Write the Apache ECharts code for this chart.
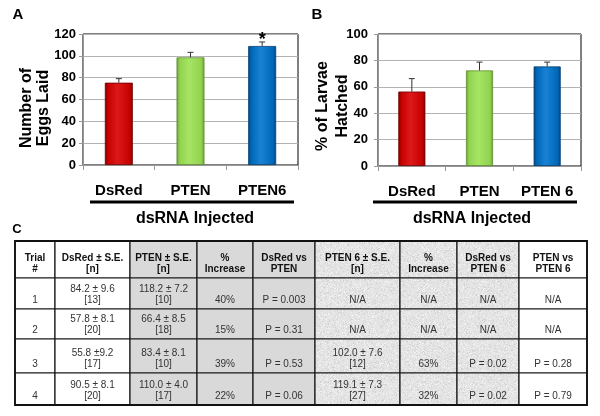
<!DOCTYPE html>
<html>
<head>
<meta charset="utf-8">
<title>dsRNA injection</title>
<script src="https://cdn.jsdelivr.net/npm/echarts@6/dist/echarts.min.js"></script>
<style>
html, body { margin: 0; padding: 0; background: #fff; }
#main { width: 600px; height: 416px; }
</style>
</head>
<body>
<div id="main"></div>
<script>
// ---- data ----
var categoriesA = ['DsRed', 'PTEN', 'PTEN6'];
var eggsMean = [75.4, 98.6, 109.0];
var eggsErr = [3.7, 4.6, 3.7];
var eggsSig = ['', '', '*'];
var yTicksA = [0, 20, 40, 60, 80, 100, 120];

var categoriesB = ['DsRed', 'PTEN', 'PTEN 6'];
var hatchMean = [56.4, 72.4, 75.4];
var hatchErr = [9.8, 6.3, 3.3];
var yTicksB = [0, 20, 40, 60, 80, 100];

var tableHeader = [['Trial', '#'], ['DsRed \u00b1 S.E.', '[n]'], ['PTEN \u00b1 S.E.', '[n]'],
  ['%', 'Increase'], ['DsRed vs', 'PTEN'], ['PTEN 6 \u00b1 S.E.', '[n]'], ['%', 'Increase'],
  ['DsRed vs', 'PTEN 6'], ['PTEN vs', 'PTEN 6']];
var trialNo = ['1', '2', '3', '4'];
var dsRedSE = ['84.2 \u00b1 9.6', '57.8 \u00b1 8.1', '55.8 \u00b19.2', '90.5 \u00b1 8.1'];
var dsRedN = ['[13]', '[20]', '[17]', '[20]'];
var ptenSE = ['118.2 \u00b1 7.2', '66.4 \u00b1 8.5', '83.4 \u00b1 8.1', '110.0 \u00b1 4.0'];
var ptenN = ['[10]', '[18]', '[10]', '[17]'];
var ptenInc = ['40%', '15%', '39%', '22%'];
var pDsRedPten = ['P = 0.003', 'P = 0.31', 'P = 0.53', 'P = 0.06'];
var pten6SE = ['N/A', 'N/A', '102.0 \u00b1 7.6', '119.1 \u00b1 7.3'];
var pten6N = ['', '', '[12]', '[27]'];
var pten6Inc = ['N/A', 'N/A', '63%', '32%'];
var pDsRedPten6 = ['N/A', 'N/A', 'P = 0.02', 'P = 0.02'];
var pPtenPten6 = ['N/A', 'N/A', 'P = 0.28', 'P = 0.79'];

// ---- layout ----
var FONT = '"Liberation Sans", Arial, sans-serif';
var colX = [15, 55, 130, 197, 253, 315, 400, 457, 519, 587];
var rowY = [241, 278, 309, 339, 373, 405];
var colFill = ['#fff', '#fff', '#d9d9d9', '#d9d9d9', '#d9d9d9', 'tex', 'tex', 'tex', '#fff'];

function barGrad(edge, mid, light) {
  return {
    type: 'linear', x: 0, y: 0, x2: 1, y2: 0,
    colorStops: [
      { offset: 0, color: edge }, { offset: 0.12, color: mid },
      { offset: 0.45, color: light }, { offset: 0.88, color: mid },
      { offset: 1, color: edge }
    ]
  };
}
var barColors = [
  barGrad('#7a0000', '#c80000', '#dc1a1a'),
  barGrad('#6a9c3c', '#93d34f', '#a6e464'),
  barGrad('#00467f', '#0068b8', '#1a82d4')
];

// light speckled texture for the PTEN 6 columns
function makeTexture() {
  var c = document.createElement('canvas');
  c.width = 97; c.height = 89;
  var ctx = c.getContext('2d');
  ctx.fillStyle = '#e4e4e4';
  ctx.fillRect(0, 0, c.width, c.height);
  for (var i = 0; i < c.width; i++) {
    for (var j = 0; j < c.height; j++) {
      var h = Math.abs(Math.sin(i * 12.9898 + j * 78.233) * 43758.5453) % 1;
      if (h < 0.12) { ctx.fillStyle = '#d4d4d4'; ctx.fillRect(i, j, 1, 1); }
      else if (h > 0.86) { ctx.fillStyle = '#f2f2f2'; ctx.fillRect(i, j, 1, 1); }
    }
  }
  return c;
}
var texture = makeTexture();

var chart = echarts.init(document.getElementById('main'), null, { renderer: 'canvas' });

function errorSeries(xi, yi, means, errs, sig) {
  var data = means.map(function (m, i) { return [i, m, errs[i], sig ? sig[i] : '']; });
  return {
    type: 'custom', xAxisIndex: xi, yAxisIndex: yi, z: 5,
    data: data,
    renderItem: function (params, api) {
      var base = api.coord([api.value(0), api.value(1)]);
      var top = api.coord([api.value(0), api.value(1) + api.value(2)]);
      var mark = data[params.dataIndex][3];
      var ch = [
        { type: 'line', shape: { x1: base[0], y1: base[1], x2: top[0], y2: top[1] }, style: { stroke: '#333', lineWidth: 1 } },
        { type: 'line', shape: { x1: top[0] - 3, y1: top[1], x2: top[0] + 3, y2: top[1] }, style: { stroke: '#333', lineWidth: 1 } }
      ];
      if (mark) {
        ch.push({ type: 'text', style: { text: mark, x: top[0], y: top[1] - 2, align: 'center', verticalAlign: 'middle',
          font: 'bold 18px ' + FONT, fill: '#000' } });
      }
      return { type: 'group', children: ch };
    }
  };
}

function barData(vals) {
  return vals.map(function (v, i) {
    return { value: v, itemStyle: { color: barColors[i], borderColor: ['#700000', '#5f8f33', '#003f73'][i], borderWidth: 0.8 } };
  });
}

var axisLabelStyle = { fontFamily: FONT, fontWeight: 'bold', color: '#000' };

// ---- graphic: panel letters, titles, table ----
var g = [];
function txt(s, x, y, font, opt) {
  opt = opt || {};
  g.push({ type: 'text', x: x, y: y, rotation: opt.rot || 0, z: 10,
    style: { text: s, x: 0, y: 0, align: opt.align || 'center', verticalAlign: 'middle',
      font: font, fill: opt.fill || '#000', lineHeight: opt.lh || 14 } });
}
txt('A', 18, 15, 'bold 15px ' + FONT);
txt('B', 317, 15, 'bold 15px ' + FONT);
txt('C', 17, 229, 'bold 13px ' + FONT);
txt('Number of\nEggs Laid', 35, 108, 'bold 16px ' + FONT, { rot: Math.PI / 2, lh: 17 });
txt('% of Larvae\nHatched', 333, 106, 'bold 16px ' + FONT, { rot: Math.PI / 2, lh: 20 });
g.push({ type: 'line', z: 10, shape: { x1: 90, y1: 202, x2: 294, y2: 202 }, style: { stroke: '#000', lineWidth: 3 } });
g.push({ type: 'line', z: 10, shape: { x1: 373, y1: 202, x2: 577, y2: 202 }, style: { stroke: '#000', lineWidth: 3 } });
txt('dsRNA Injected', 195, 219, 'bold 16px ' + FONT);
txt('dsRNA Injected', 472, 219, 'bold 16px ' + FONT);

var body = [
  trialNo.map(function (t) { return [t]; }),
  dsRedSE.map(function (s, i) { return [s, dsRedN[i]]; }),
  ptenSE.map(function (s, i) { return [s, ptenN[i]]; }),
  ptenInc.map(function (s) { return [s]; }),
  pDsRedPten.map(function (s) { return [s]; }),
  pten6SE.map(function (s, i) { return pten6N[i] ? [s, pten6N[i]] : [s]; }),
  pten6Inc.map(function (s) { return [s]; }),
  pDsRedPten6.map(function (s) { return [s]; }),
  pPtenPten6.map(function (s) { return [s]; })
];

for (var c = 0; c < 9; c++) {
  var x0 = colX[c], x1 = colX[c + 1], cx = (x0 + x1) / 2;
  var fill = colFill[c] === 'tex' ? { image: texture, repeat: 'repeat' } : colFill[c];
  for (var r = 0; r < 5; r++) {
    var y0 = rowY[r], y1 = rowY[r + 1];
    g.push({ type: 'rect', z: 1, shape: { x: x0, y: y0, width: x1 - x0, height: y1 - y0 },
      style: { fill: fill, stroke: '#1a1a1a', lineWidth: 1.2 } });
    var lines = r === 0 ? tableHeader[c] : body[c][r - 1];
    var font = (r === 0 ? 'bold ' : '') + '10px ' + FONT;
    var col = r === 0 ? '#111' : '#333';
    var n = lines.length;
    for (var k = 0; k < n; k++) {
      var yy = y1 - 8.5 - (n - 1 - k) * 11.5;
      txt(lines[k], cx, yy, font, { fill: col });
    }
  }
}
g.push({ type: 'rect', z: 2, shape: { x: colX[0], y: rowY[0], width: colX[9] - colX[0], height: rowY[5] - rowY[0] },
  style: { fill: 'none', stroke: '#111', lineWidth: 1.8 } });

var option = {
  animation: false,
  backgroundColor: '#fff',
  grid: [
    { left: 83, top: 34, width: 215, height: 131, show: true, borderColor: '#000', borderWidth: 1 },
    { left: 378, top: 34, width: 203, height: 132, show: true, borderColor: '#000', borderWidth: 1 }
  ],
  xAxis: [
    { type: 'category', gridIndex: 0, data: categoriesA,
      axisLine: { lineStyle: { color: '#999' } },
      axisTick: { show: true, length: 5, lineStyle: { color: '#999' } },
      axisLabel: Object.assign({ fontSize: 15, margin: 18, interval: 0 }, axisLabelStyle) },
    { type: 'category', gridIndex: 1, data: categoriesB,
      axisLine: { lineStyle: { color: '#999' } },
      axisTick: { show: true, length: 5, lineStyle: { color: '#999' } },
      axisLabel: Object.assign({ fontSize: 15, margin: 18, interval: 0 }, axisLabelStyle) }
  ],
  yAxis: [
    { type: 'value', gridIndex: 0, min: yTicksA[0], max: yTicksA[yTicksA.length - 1], interval: yTicksA[1] - yTicksA[0],
      axisLine: { show: true, lineStyle: { color: '#999' } },
      axisTick: { show: true, length: 4, lineStyle: { color: '#999' } },
      splitLine: { lineStyle: { color: '#b3b3b3' } },
      axisLabel: Object.assign({ fontSize: 13, margin: 7 }, axisLabelStyle) },
    { type: 'value', gridIndex: 1, min: yTicksB[0], max: yTicksB[yTicksB.length - 1], interval: yTicksB[1] - yTicksB[0],
      axisLine: { show: true, lineStyle: { color: '#999' } },
      axisTick: { show: true, length: 4, lineStyle: { color: '#999' } },
      splitLine: { lineStyle: { color: '#b3b3b3' } },
      axisLabel: Object.assign({ fontSize: 13, margin: 10 }, axisLabelStyle) }
  ],
  series: [
    { type: 'bar', xAxisIndex: 0, yAxisIndex: 0, barWidth: '39%', data: barData(eggsMean) },
    errorSeries(0, 0, eggsMean, eggsErr, eggsSig),
    { type: 'bar', xAxisIndex: 1, yAxisIndex: 1, barWidth: '40%', data: barData(hatchMean) },
    errorSeries(1, 1, hatchMean, hatchErr, null)
  ],
  graphic: g
};
chart.setOption(option);
</script>
</body>
</html>
